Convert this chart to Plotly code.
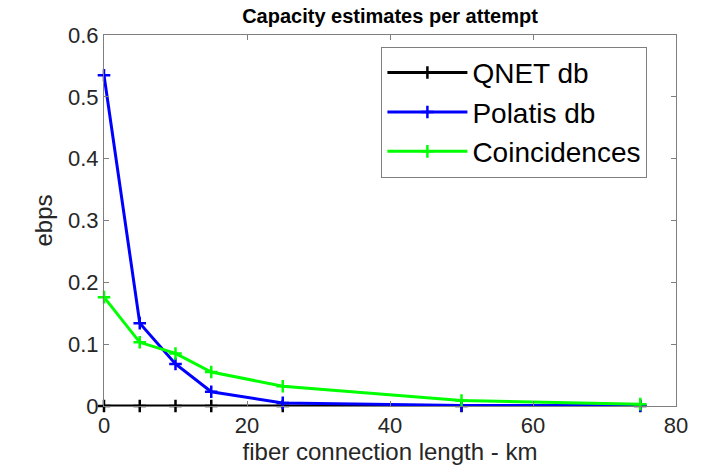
import plotly.graph_objects as go

x_km = [0, 5, 10, 15, 25, 50, 75]
qnet_db = [0.0, 0.0, 0.0, 0.0, 0.0, 0.0, 0.0]
polatis_db = [0.535, 0.134, 0.068, 0.023, 0.005, 0.001, 0.0005]
coincidences = [0.176, 0.103, 0.085, 0.055, 0.032, 0.009, 0.003]

series_names = ["QNET db", "Polatis db", "Coincidences"]
series_values = [qnet_db, polatis_db, coincidences]
series_colors = ["#000000", "#0000ff", "#00ff00"]

x_ticks = [0, 20, 40, 60, 80]
y_ticks = [0, 0.1, 0.2, 0.3, 0.4, 0.5, 0.6]
y_tick_labels = ["0", "0.1", "0.2", "0.3", "0.4", "0.5", "0.6"]

FONT = "Liberation Sans, Arial, sans-serif"
AX = "#262626"

fig = go.Figure()
for name, vals, col in zip(series_names, series_values, series_colors):
    fig.add_trace(go.Scatter(
        x=x_km, y=vals, name=name, mode="lines+markers",
        line=dict(color=col, width=3),
        marker=dict(symbol="cross-thin", size=9, color=col,
                    line=dict(color=col, width=2.5)),
        cliponaxis=False,
    ))

axis_common = dict(
    showline=True, linecolor="#7f7f7f", linewidth=1, mirror="ticks",
    ticks="inside", ticklen=5, tickcolor="#7f7f7f", tickwidth=1,
    showgrid=False, zeroline=False,
    tickfont=dict(family=FONT, size=22, color=AX),
)

fig.update_layout(
    width=718, height=472,
    margin=dict(l=104, r=42, t=35, b=66),
    paper_bgcolor="white", plot_bgcolor="white",
    title=dict(text="<b>Capacity estimates per attempt</b>",
               font=dict(family=FONT, size=20, color="#000000"),
               x=(104 + 676) / 2 / 718, xanchor="center",
               y=1 - 16 / 472, yanchor="middle"),
    xaxis=dict(range=[0, 80], tickvals=x_ticks,
               title=dict(text="fiber connection length - km",
                          font=dict(family=FONT, size=24, color=AX),
                          standoff=4),
               **axis_common),
    yaxis=dict(range=[0, 0.6], tickvals=y_ticks, ticktext=y_tick_labels,
               title=dict(text="ebps",
                          font=dict(family=FONT, size=24, color=AX),
                          standoff=8),
               **axis_common),
    legend=dict(x=0.95, xanchor="right", y=0.968, yanchor="top",
                bgcolor="white", bordercolor="#7f7f7f", borderwidth=1,
                font=dict(family=FONT, size=28, color="#000000"),
                itemwidth=80, tracegroupgap=0),
    showlegend=True,
)

fig.write_html("out.html")
